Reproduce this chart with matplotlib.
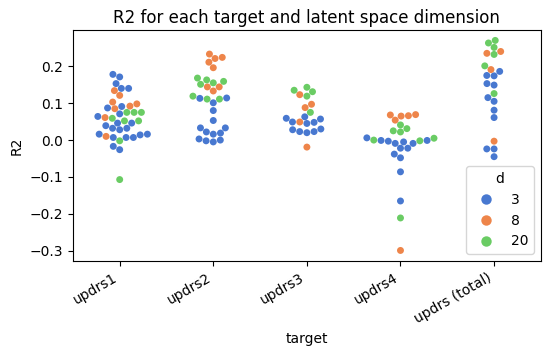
import numpy as np
import pandas as pd
import matplotlib
matplotlib.use('Agg')
import matplotlib.pyplot as plt
import seaborn as sns

targets = ['updrs1', 'updrs2', 'updrs3', 'updrs4', 'updrs (total)']

# R2 values read per target, per latent dimension d
r2_d3 = {
    'updrs1': [0.178, 0.171, 0.153, 0.14, 0.14, 0.087, 0.091, 0.071, 0.064, 0.046, 0.046,
               0.039, 0.032, 0.028, 0.032, 0.016, 0.007, 0.007, 0.007, 0.014, 0.016,
               -0.017, -0.026],
    'updrs2': [0.113, 0.114, 0.101, 0.080, 0.053, 0.033, 0.033, 0.022, 0.016, 0.019,
               0.003, -0.002, -0.005, 0.0],
    'updrs3': [0.063, 0.049, 0.045, 0.048, 0.057, 0.059, 0.028, 0.023, 0.02, 0.023, 0.03],
    'updrs4': [0.006, -0.009, -0.009, -0.005, -0.003, -0.001, -0.001, -0.022, -0.022,
               -0.038, -0.048, -0.086, -0.165],
    'updrs (total)': [0.186, 0.175, 0.174, 0.153, 0.149, 0.115, 0.105, 0.081, 0.061,
                      -0.024, -0.024, -0.045],
}
r2_d8 = {
    'updrs1': [0.134, 0.121, 0.103, 0.085, 0.092, 0.098, 0.061, 0.01],
    'updrs2': [0.233, 0.224, 0.221, 0.211, 0.196, 0.144, 0.144, 0.133],
    'updrs3': [0.123, 0.088, 0.097, 0.049, -0.019],
    'updrs4': [0.069, 0.065, 0.054, 0.066, 0.068, -0.299],
    'updrs (total)': [0.235, 0.240, 0.191, -0.003],
}
r2_d20 = {
    'updrs1': [0.075, 0.059, 0.052, 0.052, 0.075, 0.075, -0.002, -0.107],
    'updrs2': [0.168, 0.163, 0.159, 0.151, 0.155, 0.119, 0.111, 0.111],
    'updrs3': [0.143, 0.131, 0.135, 0.119, 0.075],
    'updrs4': [0.041, 0.025, 0.022, 0.031, 0.0, -0.002, 0.005, -0.211],
    'updrs (total)': [0.270, 0.263, 0.251, 0.232, 0.201, 0.126],
}

rows = []
for d, vals in [('3', r2_d3), ('8', r2_d8), ('20', r2_d20)]:
    for t in targets:
        for v in vals[t]:
            rows.append({'target': t, 'R2': v, 'd': d})
df = pd.DataFrame(rows)

fig = plt.figure(figsize=(5.48, 3.56), dpi=100)
ax = fig.add_axes([0.133, 0.267, 0.854, 0.649])
sns.swarmplot(data=df, x='target', y='R2', hue='d', order=targets,
              hue_order=['3', '8', '20'], palette='muted', ax=ax)
ax.set_title('R2 for each target and latent space dimension', pad=5)
plt.setp(ax.get_xticklabels(), rotation=30, ha='right')
ax.legend(title='d', loc='lower right', markerscale=1.5)
fig.savefig('out.png', dpi=100)
